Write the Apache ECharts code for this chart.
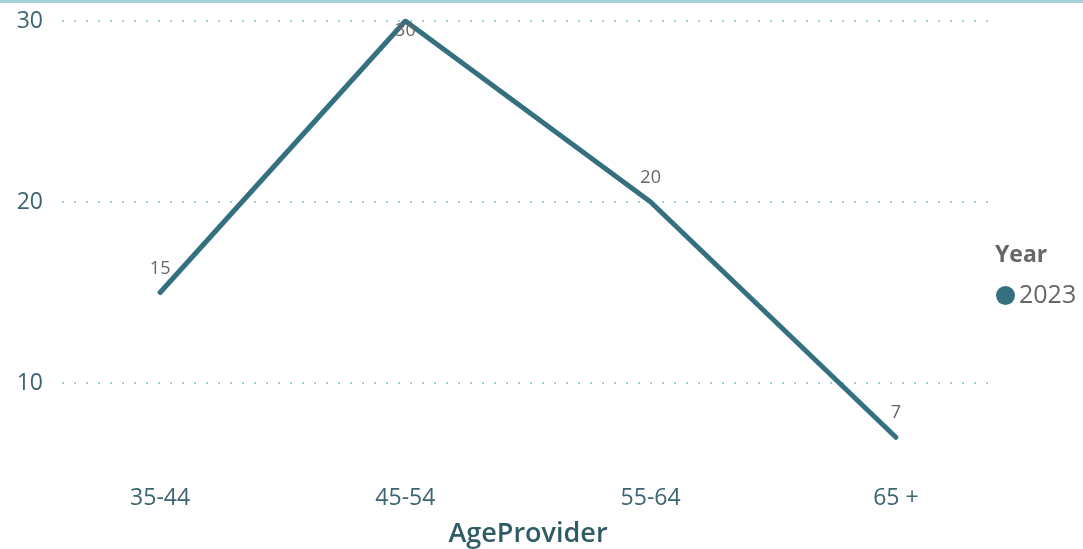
<!DOCTYPE html>
<html>
<head>
<meta charset="utf-8">
<script src="https://cdn.jsdelivr.net/npm/echarts@6/dist/echarts.min.js"></script>
<style>
html,body{margin:0;padding:0;background:#fff;}
#chart{width:1083px;height:549px;}
</style>
</head>
<body>
<div id="chart"></div>
<script>
const categories = ['35-44', '45-54', '55-64', '65 +'];
const values2023 = [15, 30, 20, 7];
const yTicks = [10, 20, 30];
const seriesName = '2023';
const legendTitle = 'Year';
const xTitle = 'AgeProvider';

const lineColor = '#34707f';
const axisTextColor = '#3b6570';
const font = 'Open Sans';

const chart = echarts.init(document.getElementById('chart'));
const labelTopIdx = values2023.indexOf(Math.max(...values2023));

chart.setOption({
  animation: false,
  textStyle: { fontFamily: font },
  graphic: [{
    type: 'rect', left: 0, top: 0, shape: { width: 1083, height: 3 },
    style: { fill: '#a6d3d8' }, silent: true
  }],
  title: {
    text: legendTitle, left: 990, top: 239,
    textStyle: { fontFamily: font, fontSize: 23, fontWeight: 'bold', color: '#666' }
  },
  legend: {
    data: [{ name: seriesName, itemStyle: { color: lineColor, opacity: 1 } }],
    left: 996, top: 283, padding: 0, icon: 'circle',
    itemWidth: 19, itemHeight: 19, itemGap: 0,
    textStyle: { fontFamily: font, fontSize: 25, color: '#666', padding: [0, 0, 0, -1] }
  },
  grid: [
    { left: 37.5, right: 64.5, top: 21, bottom: 75.5, outerBoundsMode: 'none' },
    { left: 62, right: 93, top: 21, bottom: 166, outerBoundsMode: 'none' }
  ],
  xAxis: [
    {
      type: 'category', gridIndex: 0, data: categories, boundaryGap: true,
      axisLine: { show: false }, axisTick: { show: false },
      axisLabel: { fontSize: 23, color: axisTextColor, margin: 13 },
      name: xTitle, nameLocation: 'middle', nameGap: 47,
      nameTextStyle: { fontSize: 27, color: '#2f5b66', fontWeight: 600 }
    },
    { type: 'value', gridIndex: 1, show: false, min: 0, max: 1 }
  ],
  yAxis: [
    { type: 'value', gridIndex: 0, min: 5, max: 30, show: false },
    {
      type: 'value', gridIndex: 1, min: yTicks[0], max: yTicks[yTicks.length - 1],
      interval: yTicks[1] - yTicks[0],
      axisLine: { show: false }, axisTick: { show: false },
      axisLabel: { fontSize: 23, color: axisTextColor, margin: 19 },
      splitLine: { show: true, lineStyle: { color: '#9fd0d6', width: 2, type: [2, 10] } }
    }
  ],
  series: [{
    name: seriesName, type: 'line', xAxisIndex: 0, yAxisIndex: 0,
    data: values2023.map((v, i) => i === labelTopIdx
      ? { value: v, label: { position: 'bottom', distance: 0 } }
      : v),
    color: lineColor,
    lineStyle: { width: 5, color: lineColor, cap: 'round', join: 'round' },
    symbol: 'circle', symbolSize: 2, showSymbol: true,
    itemStyle: { color: 'rgba(0,0,0,0)', borderWidth: 0 },
    label: {
      show: true, position: 'top', distance: 14,
      fontSize: 18, color: '#666', fontFamily: font
    }
  }]
});
</script>
</body>
</html>
